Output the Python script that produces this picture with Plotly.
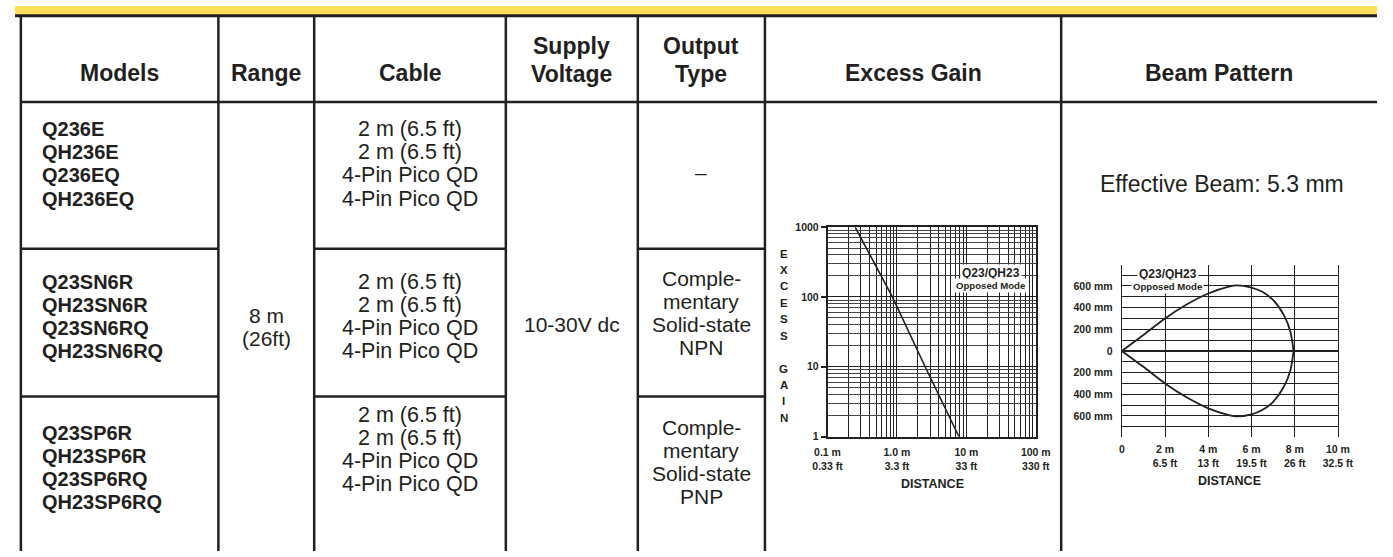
import plotly.graph_objects as go

W, H = 1393, 557
INK = "#231F20"
YELLOW = "#FDE05B"
FONT = "Liberation Sans, Arial, sans-serif"

# ---------------- table content ----------------
header_labels = [["Models"], ["Range"], ["Cable"], ["Supply", "Voltage"],
                 ["Output", "Type"], ["Excess Gain"], ["Beam Pattern"]]
model_groups = [["Q236E", "QH236E", "Q236EQ", "QH236EQ"],
                ["Q23SN6R", "QH23SN6R", "Q23SN6RQ", "QH23SN6RQ"],
                ["Q23SP6R", "QH23SP6R", "Q23SP6RQ", "QH23SP6RQ"]]
range_lines = ["8 m", "(26ft)"]
cable_groups = [["2 m (6.5 ft)", "2 m (6.5 ft)", "4-Pin Pico QD", "4-Pin Pico QD"],
                ["2 m (6.5 ft)", "2 m (6.5 ft)", "4-Pin Pico QD", "4-Pin Pico QD"],
                ["2 m (6.5 ft)", "2 m (6.5 ft)", "4-Pin Pico QD", "4-Pin Pico QD"]]
supply_lines = ["10-30V dc"]
output_groups = [["–"],
                 ["Comple-", "mentary", "Solid-state", "NPN"],
                 ["Comple-", "mentary", "Solid-state", "PNP"]]
beam_note = "Effective Beam: 5.3 mm"
chart_label = ["Q23/QH23", "Opposed Mode"]
eg_axis_title = "EXCESS GAIN"
distance_title = "DISTANCE"

# ---------------- excess gain data ----------------
eg_distance_m = [0.25, 0.86, 2.55, 7.8]
eg_excess_gain = [1000, 100, 10, 1]
eg_x_ticks = [0.1, 1, 10, 100]
eg_x_text = ["0.1 m<br>0.33 ft", "1.0 m<br>3.3 ft", "10 m<br>33 ft", "100 m<br>330 ft"]
eg_y_ticks = [1, 10, 100, 1000]
eg_y_text = ["1", "10", "100", "1000"]

# ---------------- beam pattern data ----------------
beam_distance_m = [0, 1, 2, 3, 4, 5, 5.3, 6, 6.5, 7, 7.5, 7.8, 7.95]
beam_halfwidth_mm = [0, 147, 300, 428, 530, 595, 605, 585, 545, 470, 330, 180, 0]
beam_x_ticks = [0, 2, 4, 6, 8, 10]
beam_x_text = ["0", "2 m<br>6.5 ft", "4 m<br>13 ft", "6 m<br>19.5 ft", "8 m<br>26 ft", "10 m<br>32.5 ft"]
beam_mm_ticks = [600, 400, 200, 0, -200, -400, -600]
beam_mm_text = ["600 mm", "400 mm", "200 mm", "0", "200 mm", "400 mm", "600 mm"]
beam_in_ticks = [24, 16, 8, 0, -8, -16, -24]
beam_in_text = ["24 in", "16 in", "8 in", "0", "8 in", "16 in", "24 in"]


def X(px):
    return px / W


def Y(py):
    return 1 - py / H


# layout geometry (pixels)
col_edges = [6, 208, 306, 502, 637, 767, 1070, 1393]
row_lines = [248, 399]
split_cols = [0, 2, 4]  # columns that have row separators

fig = go.Figure()

fig.add_trace(go.Scatter(x=eg_distance_m, y=eg_excess_gain, mode="lines",
                         line=dict(color=INK, width=1.6), xaxis="x", yaxis="y",
                         hoverinfo="skip"))
fig.add_trace(go.Scatter(x=beam_distance_m, y=beam_halfwidth_mm, mode="lines",
                         line=dict(color=INK, width=1.8, shape="spline", smoothing=0.8),
                         xaxis="x2", yaxis="y2", hoverinfo="skip"))
fig.add_trace(go.Scatter(x=beam_distance_m, y=[-v for v in beam_halfwidth_mm], mode="lines",
                         line=dict(color=INK, width=1.8, shape="spline", smoothing=0.8),
                         xaxis="x2", yaxis="y2", hoverinfo="skip"))

shapes = []
shapes.append(dict(type="rect", xref="paper", yref="paper", x0=0, x1=1, y0=Y(9), y1=1,
                   fillcolor=YELLOW, line=dict(width=0), layer="below"))
shapes.append(dict(type="line", xref="paper", yref="paper", x0=0, x1=1, y0=Y(10), y1=Y(10),
                   line=dict(color=INK, width=3)))
shapes.append(dict(type="line", xref="paper", yref="paper", x0=X(col_edges[0]), x1=1,
                   y0=Y(98), y1=Y(98), line=dict(color=INK, width=2.5)))
for xe in col_edges[:-1]:
    shapes.append(dict(type="line", xref="paper", yref="paper", x0=X(xe), x1=X(xe),
                       y0=Y(10), y1=0, line=dict(color=INK, width=2.5)))
for c in split_cols:
    for ry in row_lines:
        shapes.append(dict(type="line", xref="paper", yref="paper",
                           x0=X(col_edges[c]), x1=X(col_edges[c + 1]), y0=Y(ry), y1=Y(ry),
                           line=dict(color=INK, width=2.5)))

ann = []


def txt(x, y, s, size, bold=False, xanchor="center", bg=None, pad=0):
    d = dict(x=X(x), y=Y(y), xref="paper", yref="paper", showarrow=False,
             text=f"<b>{s}</b>" if bold else s, xanchor=xanchor, yanchor="middle",
             font=dict(family=FONT, size=size, color=INK), borderpad=pad)
    if bg:
        d["bgcolor"] = bg
    ann.append(d)


# headers
for i, lines in enumerate(header_labels):
    cx = (col_edges[i] + col_edges[i + 1]) / 2
    if len(lines) == 1:
        txt(cx, 68, lines[0], 23, bold=True)
    else:
        txt(cx, 41, lines[0], 23, bold=True)
        txt(cx, 69, lines[1], 23, bold=True)

LS = 23.6
model_starts = [126, 282, 436]
cable_starts = [126, 282, 418]
output_starts = [170, 278, 431]

for g, lines in enumerate(model_groups):
    for k, s in enumerate(lines):
        txt(27, model_starts[g] + k * LS, s, 20, bold=True, xanchor="left")
for g, lines in enumerate(cable_groups):
    cx = (col_edges[2] + col_edges[3]) / 2
    for k, s in enumerate(lines):
        txt(cx, cable_starts[g] + k * LS, s, 21.5)
for g, lines in enumerate(output_groups):
    cx = (col_edges[4] + col_edges[5]) / 2
    for k, s in enumerate(lines):
        txt(cx, output_starts[g] + k * LS, s, 21)
for k, s in enumerate(range_lines):
    txt((col_edges[1] + col_edges[2]) / 2, 316 + k * LS, s, 21)
txt((col_edges[3] + col_edges[4]) / 2, 326, supply_lines[0], 21)
txt(1234, 182, beam_note, 23)

# excess gain chart texts: stacked vertical title letters
for k, ch in enumerate(eg_axis_title):
    if ch != " ":
        txt(786, 253 + k * 16.8, ch, 11.5, bold=True)
txt(998, 273, chart_label[0], 12, bold=True, bg="white", pad=1)
txt(998, 286, chart_label[1], 9.6, bold=True, bg="white", pad=1)
txt(938, 489, distance_title, 12.5, bold=True)

# beam chart texts
txt(1179, 274, chart_label[0], 12, bold=True, bg="white", pad=1)
txt(1179, 287, chart_label[1], 9.6, bold=True, bg="white", pad=1)
txt(1242, 485, distance_title, 12.5, bold=True)

minor_log_x = [m * 10 ** e for e in (-1, 0, 1) for m in range(2, 10)]
minor_log_y = [m * 10 ** e for e in (0, 1, 2) for m in range(2, 10)]
tickfont = dict(family=FONT, size=10.5, color=INK, weight="bold")

fig.update_layout(
    width=W, height=H, margin=dict(l=0, r=0, t=0, b=0),
    paper_bgcolor="white", plot_bgcolor="white", showlegend=False,
    shapes=shapes, annotations=ann,
    xaxis=dict(domain=[X(831), X(1044)], type="log", range=[-1, 2], anchor="y",
               tickmode="array", tickvals=eg_x_ticks, ticktext=eg_x_text,
               ticks="outside", ticklen=5, tickcolor="rgba(0,0,0,0)",
               showgrid=True, gridcolor=INK, gridwidth=1,
               minor=dict(tickvals=minor_log_x, showgrid=True, gridcolor=INK, gridwidth=1, ticks=""),
               showline=True, mirror=True, linecolor=INK, linewidth=1.5,
               zeroline=False, tickfont=tickfont, fixedrange=True),
    yaxis=dict(domain=[Y(440), Y(226)], type="log", range=[0, 3], anchor="x",
               tickmode="array", tickvals=eg_y_ticks, ticktext=eg_y_text,
               ticks="outside", ticklen=5, tickcolor=INK, tickwidth=1.5,
               showgrid=True, gridcolor=INK, gridwidth=1,
               minor=dict(tickvals=minor_log_y, showgrid=True, gridcolor="#444", gridwidth=1, ticks=""),
               showline=True, mirror=True, linecolor=INK, linewidth=1.5,
               zeroline=False, tickfont=tickfont, fixedrange=True),
    xaxis2=dict(domain=[X(1132), X(1353)], range=[0, 10], anchor="y2",
                tickmode="array", tickvals=beam_x_ticks, ticktext=beam_x_text,
                ticks="outside", ticklen=3, tickcolor="rgba(0,0,0,0)",
                showgrid=True, gridcolor=INK, gridwidth=1.2, zeroline=False,
                showline=False, tickfont=tickfont, fixedrange=True),
    yaxis2=dict(domain=[Y(440), Y(265)], range=[-790, 790], anchor="x2",
                tickmode="array", tickvals=beam_mm_ticks, ticktext=beam_mm_text,
                ticks="outside", ticklen=6, tickcolor="rgba(0,0,0,0)",
                showgrid=True, gridcolor=INK, gridwidth=1,
                minor=dict(dtick=100, tick0=0, showgrid=True, gridcolor=INK, gridwidth=1, ticks=""),
                zeroline=True, zerolinecolor=INK, zerolinewidth=1.5,
                showline=True, mirror=True, linecolor=INK, linewidth=1.2,
                tickfont=tickfont, fixedrange=True),
    yaxis3=dict(overlaying="y2", side="right", anchor="x2",
                range=[-790 / 25.4, 790 / 25.4],
                tickmode="array", tickvals=beam_in_ticks, ticktext=beam_in_text,
                ticks="outside", ticklen=6, tickcolor="rgba(0,0,0,0)",
                showgrid=False, zeroline=False, showline=False,
                tickfont=tickfont, fixedrange=True),
)

fig.write_html("out.html", config={"displayModeBar": False},
               post_script="document.body.style.margin='0px';document.body.style.overflow='hidden';")
